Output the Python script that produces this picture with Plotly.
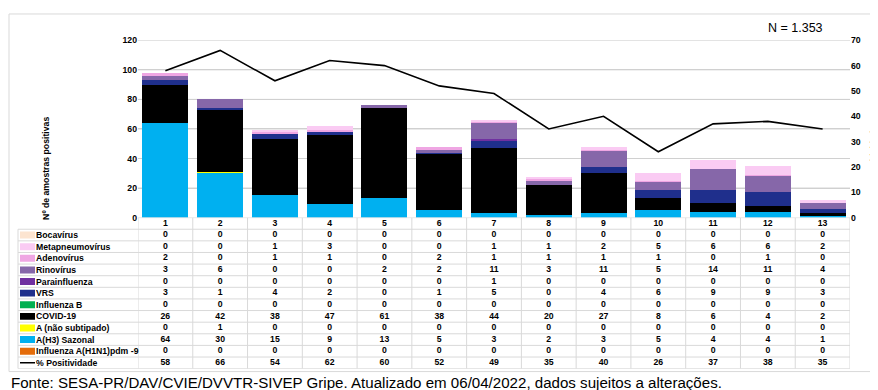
import plotly.graph_objects as go

W, H = 878, 390

weeks = ["1", "2", "3", "4", "5", "6", "7", "8", "9", "10", "11", "12", "13"]
bocavirus = [0, 0, 0, 0, 0, 0, 0, 0, 0, 0, 0, 0, 0]
metapneumovirus = [0, 0, 1, 3, 0, 0, 1, 1, 2, 5, 6, 6, 2]
adenovirus = [2, 0, 1, 1, 0, 2, 1, 1, 1, 1, 0, 1, 0]
rinovirus = [3, 6, 0, 0, 2, 2, 11, 3, 11, 5, 14, 11, 4]
parainfluenza = [0, 0, 0, 0, 0, 0, 1, 0, 0, 0, 0, 0, 0]
vrs = [3, 1, 4, 2, 0, 1, 5, 0, 4, 6, 9, 9, 3]
influenza_b = [0, 0, 0, 0, 0, 0, 0, 0, 0, 0, 0, 0, 0]
covid19 = [26, 42, 38, 47, 61, 38, 44, 20, 27, 8, 6, 4, 2]
a_nao_subtipado = [0, 1, 0, 0, 0, 0, 0, 0, 0, 0, 0, 0, 0]
a_h3_sazonal = [64, 30, 15, 9, 13, 5, 3, 2, 3, 5, 4, 4, 1]
h1n1pdm09 = [0, 0, 0, 0, 0, 0, 0, 0, 0, 0, 0, 0, 0]
positividade = [58, 66, 54, 62, 60, 52, 49, 35, 40, 26, 37, 38, 35]
left_ticks = [0, 20, 40, 60, 80, 100, 120]
right_ticks = [0, 10, 20, 30, 40, 50, 60, 70]

# table order (top to bottom)
series_names = ["Bocavírus", "Metapneumovírus", "Adenovírus", "Rinovírus", "Parainfluenza",
                "VRS", "Influenza B", "COVID-19", "A (não subtipado)", "A(H3) Sazonal",
                "Influenza A(H1N1)pdm -9"]
series_values = [bocavirus, metapneumovirus, adenovirus, rinovirus, parainfluenza,
                 vrs, influenza_b, covid19, a_nao_subtipado, a_h3_sazonal, h1n1pdm09]
series_colors = ["#FCE4D0", "#FACBF3", "#EFA6E3", "#8667A9", "#7030A0",
                 "#1F2F8C", "#00B050", "#000000", "#FFFF00", "#00B0F0", "#E46C0A"]
line_name = "% Positividade"

FONT = "Liberation Sans, Arial, sans-serif"
FS = 8.7
xs = list(range(1, len(weeks) + 1))

fig = go.Figure()

# stacked bars, bottom to top
for name, vals, col in reversed(list(zip(series_names, series_values, series_colors))):
    fig.add_trace(go.Bar(x=xs, y=vals, name=name, marker=dict(color=col, line=dict(width=0)),
                         xaxis="x", yaxis="y"))

fig.add_trace(go.Scatter(x=xs, y=positividade, mode="lines", name=line_name,
                         line=dict(color="#000000", width=1.6), xaxis="x", yaxis="y2"))

# data table as text in its own subplot
row_labels = ["header"] + series_names + [line_name]
tx, ty, tt = [], [], []
for i, w in enumerate(weeks):
    tx.append(xs[i]); ty.append(0); tt.append("<b>%s</b>" % w)
for r, vals in enumerate(series_values + [positividade], start=1):
    for i, v in enumerate(vals):
        tx.append(xs[i]); ty.append(r); tt.append("<b>%d</b>" % v)
fig.add_trace(go.Scatter(x=tx, y=ty, text=tt, mode="text", xaxis="x2", yaxis="y3",
                         textfont=dict(family=FONT, size=FS, color="#000000"),
                         textposition="middle center", cliponaxis=False, hoverinfo="skip"))

def px_x(p):
    return p / W

def px_y(p):
    return (H - p) / H

plot_top, plot_bot = 28, 210
tab_top, tab_bot = 210, 365
x_left, x_right = 130, 842
lab_left = 10
nrows = len(row_labels)

shapes = []
annotations = []
grid = "#D9D9D9"

# value gridlines of the left axis
for t in left_ticks[1:]:
    shapes.append(dict(type="line", xref="paper", yref="y", x0=px_x(x_left), x1=px_x(x_right),
                       y0=t, y1=t, layer="below", line=dict(color="#D0D0D0", width=1)))

# table grid lines
shapes.append(dict(type="line", xref="x2", yref="y3", x0=0.5, x1=len(weeks) + 0.5,
                   y0=-0.5, y1=-0.5, line=dict(color=grid, width=1)))
for r in range(1, nrows + 1):
    shapes.append(dict(type="line", xref="paper", yref="y3", x0=px_x(lab_left), x1=px_x(x_right),
                       y0=r - 0.5, y1=r - 0.5, line=dict(color=grid, width=1)))
for k in range(len(weeks) + 1):
    shapes.append(dict(type="line", xref="x2", yref="y3", x0=k + 0.5, x1=k + 0.5,
                       y0=-0.5, y1=nrows - 0.5, line=dict(color=grid, width=1)))
shapes.append(dict(type="line", xref="paper", yref="y3", x0=px_x(lab_left), x1=px_x(lab_left),
                   y0=0.5, y1=nrows - 0.5, line=dict(color=grid, width=1)))

# row labels with swatches
for r, (name, col) in enumerate(zip(series_names, series_colors), start=1):
    shapes.append(dict(type="rect", xref="paper", yref="y3", x0=px_x(12), x1=px_x(27),
                       y0=r - 0.3, y1=r + 0.3, fillcolor=col, line=dict(width=0)))
    annotations.append(dict(text="<b>%s</b>" % name, xref="paper", yref="y3", x=px_x(26), y=r,
                            xanchor="left", yanchor="middle", showarrow=False,
                            font=dict(family=FONT, size=FS, color="#000000")))
r = nrows - 1
shapes.append(dict(type="line", xref="paper", yref="y3", x0=px_x(12), x1=px_x(27),
                   y0=r, y1=r, line=dict(color="#000000", width=1.5)))
annotations.append(dict(text="<b>%s</b>" % line_name, xref="paper", yref="y3", x=px_x(26), y=r,
                        xanchor="left", yanchor="middle", showarrow=False,
                        font=dict(family=FONT, size=FS, color="#000000")))

# outer chart border
shapes.append(dict(type="rect", xref="paper", yref="paper", x0=px_x(1), x1=px_x(877),
                   y0=px_y(368), y1=px_y(1), line=dict(color=grid, width=1)))

# axis titles & notes
annotations.append(dict(text="<b>Nº de amostras positivas</b>", xref="paper", yref="paper",
                        x=px_x(38), y=px_y(160), textangle=-90, showarrow=False,
                        xanchor="center", yanchor="middle",
                        font=dict(family=FONT, size=FS, color="#000000")))
annotations.append(dict(text="<b>% Positividade</b>", xref="paper", yref="paper",
                        x=px_x(866), y=px_y(148), textangle=-90, showarrow=False,
                        xanchor="center", yanchor="middle",
                        font=dict(family=FONT, size=FS, color="#000000")))
annotations.append(dict(text="N = 1.353", xref="paper", yref="paper",
                        x=px_x(787), y=px_y(15), showarrow=False,
                        xanchor="center", yanchor="middle",
                        font=dict(family=FONT, size=12.5, color="#000000")))
annotations.append(dict(text="Fonte: SESA-PR/DAV/CVIE/DVVTR-SIVEP Gripe. Atualizado em 06/04/2022, dados sujeitos a alterações.",
                        xref="paper", yref="paper", x=px_x(1), y=px_y(379), showarrow=False,
                        xanchor="left", yanchor="middle",
                        font=dict(family=FONT, size=15.1, color="#000000")))

xdom = [px_x(x_left), px_x(x_right)]
xrng = [0.5, len(weeks) + 0.5]

fig.update_layout(
    width=W, height=H,
    margin=dict(l=0, r=0, t=0, b=0),
    paper_bgcolor="white", plot_bgcolor="rgba(0,0,0,0)",
    barmode="stack", bargap=0.16,
    showlegend=False,
    font=dict(family=FONT, size=FS, color="#000000"),
    xaxis=dict(domain=xdom, range=xrng,
               showticklabels=False, ticks="", showgrid=False, zeroline=False,
               showline=False, anchor="y"),
    xaxis2=dict(domain=xdom, range=xrng,
                showticklabels=False, ticks="", showgrid=False, zeroline=False,
                showline=False, anchor="y3"),
    yaxis=dict(domain=[px_y(plot_bot), px_y(plot_top)], range=[0, 120],
               tickmode="array", tickvals=left_ticks,
               showgrid=True, gridcolor="#D0D0D0", gridwidth=1, zeroline=False, showline=False,
               ticks="", tickfont=dict(family=FONT, size=FS, color="#000000", weight="bold"),
               anchor="x"),
    yaxis2=dict(domain=[px_y(plot_bot), px_y(plot_top)], range=[0, 70],
                tickmode="array", tickvals=right_ticks,
                overlaying="y", side="right", showgrid=False, zeroline=False, showline=False,
                ticks="", tickfont=dict(family=FONT, size=FS, color="#000000", weight="bold"),
                anchor="x"),
    yaxis3=dict(domain=[px_y(tab_bot), px_y(tab_top)], range=[nrows - 0.5, -0.5],
                showgrid=False, zeroline=False, showline=False, showticklabels=False,
                ticks="", anchor="x2"),
    shapes=shapes,
    annotations=annotations,
)

fig.write_html("out.html")
